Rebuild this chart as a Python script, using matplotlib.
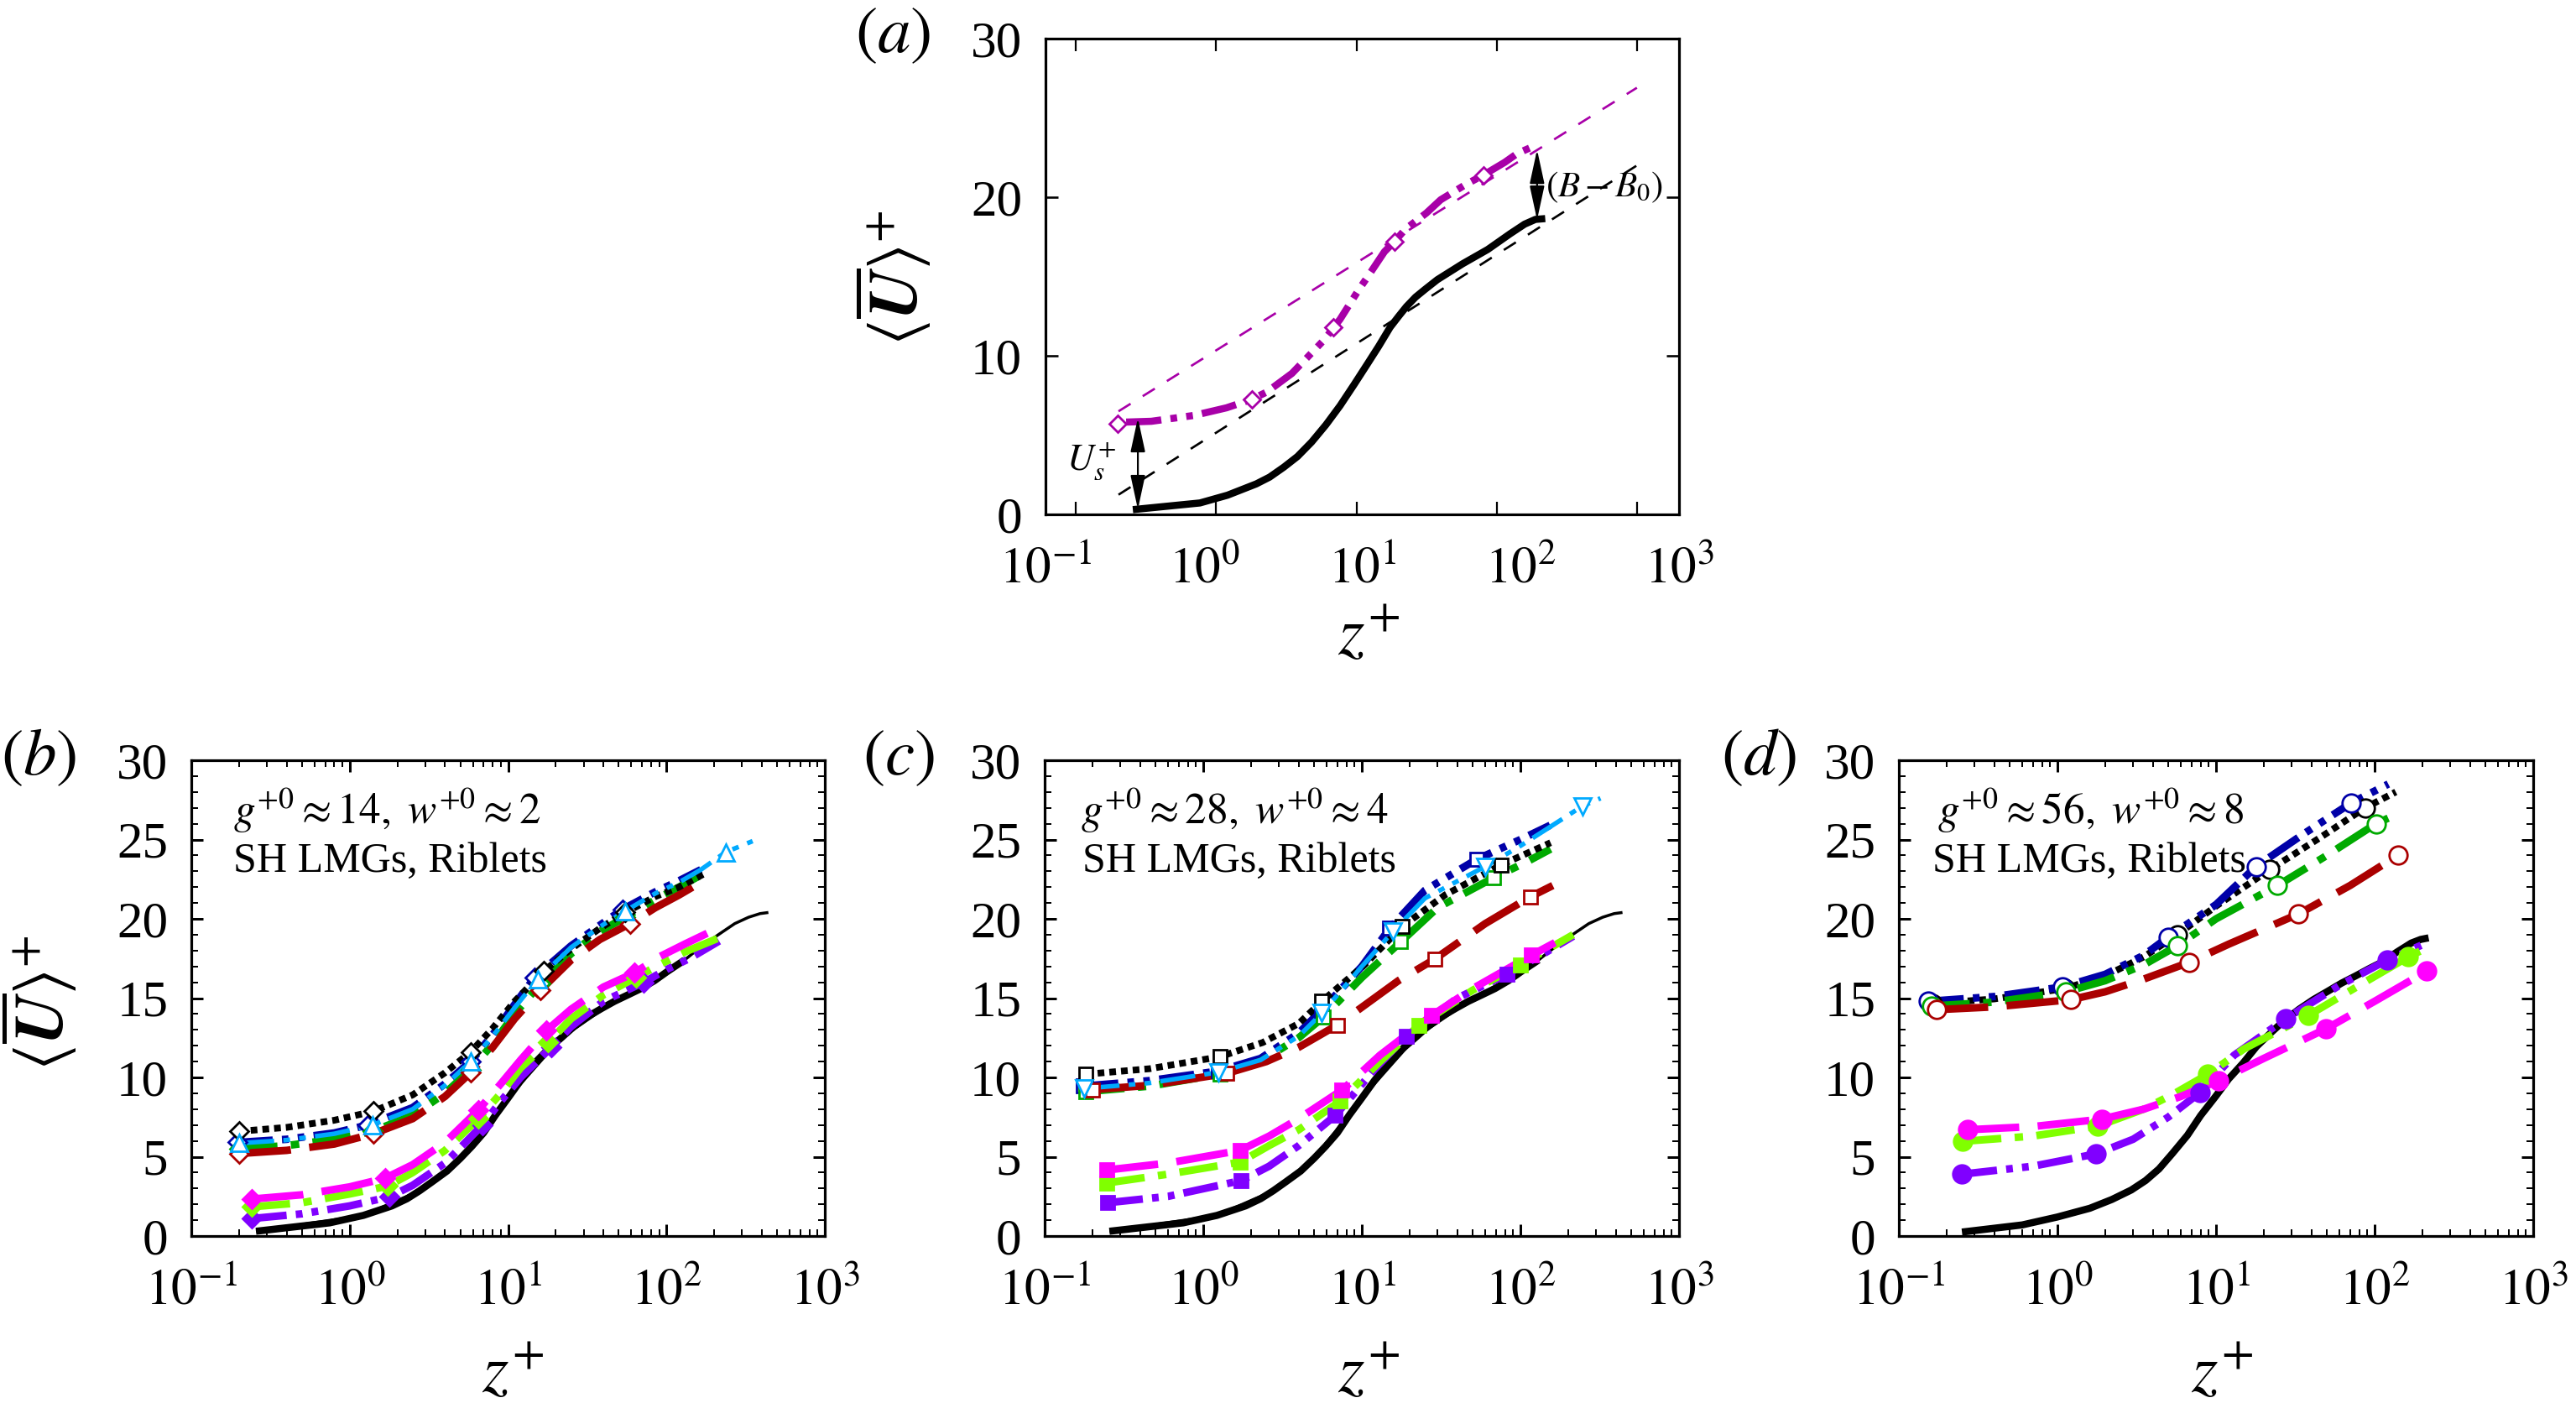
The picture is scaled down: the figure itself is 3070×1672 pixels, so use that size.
import matplotlib
matplotlib.use("Agg")
import matplotlib.pyplot as plt

plt.rcParams['font.family'] = ['Liberation Serif', 'DejaVu Serif']
plt.rcParams['mathtext.fontset'] = 'stix'
plt.rcParams['lines.scale_dashes'] = False

W, H = 3070, 1672

# ------ panel a
a_base_x = [.356, .944, 1.41, 2.14, 2.6, 3.2, 3.9, 4.79, 5.9, 7.24, 8.9, 10.8, 12.7, 15, 17, 19, 21.7, 25, 29.8, 43, 61.9, 86, 106, 124, 143]
a_base_y = [.3, .72, 1.21, 1.92, 2.35, 2.98, 3.65, 4.56, 5.65, 6.85, 8.2, 9.5, 10.6, 11.8, 12.5, 13.1, 13.7, 14.2, 14.8, 15.8, 16.7, 17.7, 18.3, 18.6, 18.65]
a_sh_x = [.323, .466, .867, 1.39, 2.0, 2.5, 3.6, 5.74, 7.24, 9.55, 10.8, 13.8, 15.9, 18.8, 25.4, 31.3, 45, 58.3, 79.4, 95, 120]
a_sh_y = [5.82, 5.87, 6.24, 6.72, 7.25, 7.72, 8.89, 11, 12.3, 14.2, 14.97, 16.56, 17.18, 18, 19, 19.84, 20.8, 21.4, 22.2, 22.75, 23.2]
a_mark_x = [.285, 2.0, 6.6, 15.9, 58.3]
a_mark_y = [5.7, 7.25, 11.8, 17.18, 21.4]
a_log0_x = [.289, 542]
a_log0_y = [1.24, 22.0]
a_log1_x = [.289, 542]
a_log1_y = [6.5, 26.9]
a_tick_marks = [.155, 1.19, 9.2, 71, 545]
a_ar1_x, a_ar1_y = .383, (6.08, .32)
a_ar2_x, a_ar2_y = 127, (23.0, 18.57)

# ------ baseline smooth-wall curve b/c
base_x = [.256, .748, 1.22, 1.85, 2.3, 2.76, 3.3, 4.12, 5, 5.9, 7, 8.3, 10, 12, 14.7, 18, 21.7, 26, 32, 39, 47, 57, 69, 84, 102, 130]
base_y = [.3, .83, 1.3, 1.9, 2.35, 2.85, 3.4, 4.1, 4.9, 5.65, 6.5, 7.6, 8.7, 9.8, 10.9, 11.8, 12.5, 13.2, 13.85, 14.35, 14.8, 15.2, 15.6, 16.1, 16.7, 17.4]
thin_x = [.256, 1.22, 2.76, 5, 10, 21.7, 47, 102, 130, 150, 180, 220, 270, 330, 390, 440]
thin_y = [.3, 1.3, 2.85, 4.9, 8.7, 12.5, 14.8, 16.7, 17.4, 17.9, 18.5, 19.1, 19.7, 20.1, 20.33, 20.4]

# ------ panel b
b_black = ([.2, .4, .8, 1.41, 2.5, 4, 5.8, 8, 11, 16.8, 25, 38, 55, 85, 120, 170],
           [6.6, 6.85, 7.3, 7.86, 8.9, 10.3, 11.6, 13.1, 14.8, 16.7, 18.1, 19.4, 20.4, 21.4, 22, 22.8])
b_black_m = ([.2, 1.41, 5.8, 16.8, 55], [6.6, 7.86, 11.6, 16.7, 20.4])
b_navy = ([.196, .4, .8, 1.3, 2.5, 4, 5.8, 8, 11, 14.7, 25, 38, 53, 85, 120, 165],
          [5.9, 6.1, 6.5, 7.0, 8.1, 9.6, 11.0, 12.7, 14.6, 16.3, 18.3, 19.6, 20.6, 21.7, 22.4, 23.1])
b_navy_m = ([.196, 1.3, 5.8, 14.7, 53], [5.9, 7.0, 11.0, 16.3, 20.6])
b_cyan = ([.2, .4, .8, 1.39, 2.5, 4, 5.8, 8, 11, 15.4, 25, 38, 55, 85, 120, 165, 236, 350],
          [5.85, 6.05, 6.45, 7.0, 8.0, 9.5, 11.0, 12.6, 14.4, 16.2, 18.2, 19.5, 20.5, 21.6, 22.3, 23.1, 24.2, 24.9])
b_cyan_m = ([.2, 1.39, 5.8, 15.4, 55, 236], [5.85, 7.0, 11.0, 16.2, 20.5, 24.2])
b_green = ([.2, .4, .8, 1.39, 2.5, 4, 5.8, 8, 11, 16, 25, 38, 55, 85, 120, 175],
           [5.5, 5.7, 6.1, 6.6, 7.6, 9.0, 10.5, 12.1, 14, 15.9, 17.8, 19.2, 20.1, 21.2, 22, 22.9])
b_green_m = ([.2, 1.39, 5.8, 16, 55], [5.5, 6.6, 10.5, 15.9, 20.1])
b_red = ([.2, .4, .8, 1.41, 2.5, 4, 5.8, 8, 11, 16, 25, 38, 59, 85, 120, 178],
         [5.2, 5.4, 5.8, 6.45, 7.4, 8.8, 10.3, 11.9, 13.7, 15.5, 17.4, 18.7, 19.7, 20.7, 21.5, 22.5])
b_red_m = ([.2, 1.41, 5.8, 16, 59], [5.2, 6.45, 10.3, 15.5, 19.7])
b_mag = ([.24, .5, 1, 1.67, 2.5, 4, 6.5, 9, 12, 17.5, 25, 40, 63, 90, 130, 210],
         [2.33, 2.6, 3.1, 3.64, 4.5, 5.9, 7.95, 9.6, 11.1, 12.96, 14.3, 15.7, 16.6, 17.6, 18.4, 19.4])
b_mag_m = ([.24, 1.67, 6.5, 17.5, 63], [2.33, 3.64, 7.95, 12.96, 16.6])
b_lime = ([.24, .5, 1, 1.74, 2.5, 4, 6.5, 9, 12, 17.9, 25, 40, 64, 90, 130, 215],
          [1.84, 2.1, 2.65, 3.15, 4, 5.4, 7.4, 9, 10.6, 12.2, 13.7, 15.2, 16.3, 17.1, 17.9, 18.8])
b_lime_m = ([.24, 1.74, 6.5, 17.9, 64], [1.84, 3.15, 7.4, 12.2, 16.3])
b_pur = ([.24, .5, 1, 1.78, 2.5, 4, 6.9, 9, 12, 18.7, 25, 40, 72, 100, 140, 215],
         [1.1, 1.4, 1.9, 2.47, 3.2, 4.6, 7, 8.5, 10, 11.9, 13.2, 14.8, 16, 16.8, 17.5, 18.6])
b_pur_m = ([.24, 1.78, 6.9, 18.7, 72], [1.1, 2.47, 7, 11.9, 16])

# ------ panel c
c_black = ([.182, .46, 1.27, 2.37, 4, 5.6, 10.4, 17.9, 33.4, 75.5, 155],
           [10.2, 10.55, 11.3, 12.2, 13.4, 14.8, 17.1, 19.5, 21.5, 23.4, 24.8])
c_black_m = ([.182, 1.27, 5.6, 17.9, 75.5], [10.2, 11.3, 14.8, 19.5, 23.4])
c_navy = ([.175, .46, 1.24, 2.3, 4, 5.6, 10, 15, 25, 53, 100, 154],
          [9.45, 9.8, 10.4, 11.2, 12.8, 14.25, 17, 19.4, 21.8, 23.75, 25, 25.9])
c_navy_m = ([.175, 1.24, 5.6, 15, 53], [9.45, 10.4, 14.25, 19.4, 23.75])
c_cyan = ([.178, .46, 1.25, 2.3, 4, 5.6, 10, 15.7, 25, 60, 100, 154, 245, 320],
          [9.3, 9.65, 10.33, 11.1, 12.6, 14.05, 17, 19.2, 21.3, 23.3, 24.6, 25.8, 27.1, 27.6])
c_cyan_m = ([.178, 1.25, 5.6, 15.7, 60, 245], [9.3, 10.33, 14.05, 19.2, 23.3, 27.1])
c_green = ([.182, .46, 1.27, 2.3, 4, 5.7, 10, 17.6, 30, 68, 110, 155],
           [9.1, 9.45, 10.2, 11, 12.5, 13.8, 16.3, 18.55, 20.7, 22.6, 23.6, 24.4])
c_green_m = ([.182, 1.27, 5.7, 17.6, 68], [9.1, 10.2, 13.8, 18.55, 22.6])
c_red = ([.2, .46, 1.4, 2.5, 4, 7, 12, 17, 28.7, 60, 116, 160],
         [9.23, 9.5, 10.25, 11, 11.9, 13.3, 15, 16.1, 17.45, 19.7, 21.4, 22.1])
c_red_m = ([.2, 1.4, 7, 28.7, 116], [9.23, 10.25, 13.3, 17.45, 21.4])
c_mag = ([.245, .6, 1.71, 2.6, 4, 7.5, 13, 27.5, 50, 117, 165],
         [4.16, 4.6, 5.4, 6.3, 7.4, 9.2, 11.4, 13.9, 15.6, 17.7, 18.5])
c_mag_m = ([.245, 1.71, 7.5, 27.5, 117], [4.16, 5.4, 9.2, 13.9, 17.7])
c_lime = ([.245, .6, 1.71, 2.6, 4, 7.3, 13, 23, 50, 100, 215],
          [3.34, 3.9, 4.66, 5.7, 6.7, 8.5, 11, 13.3, 15.5, 17.1, 19])
c_lime_m = ([.245, 1.71, 7.3, 23, 100], [3.34, 4.66, 8.5, 13.3, 17.1])
c_pur = ([.25, .6, 1.74, 2.6, 4, 6.8, 12, 19, 40, 82, 140, 215],
         [2.1, 2.5, 3.5, 4.4, 5.7, 7.6, 10.5, 12.6, 15, 16.5, 17.8, 18.9])
c_pur_m = ([.25, 1.74, 6.8, 19, 82], [2.1, 3.5, 7.6, 12.6, 16.5])

# ------ panel d
d_base_x = [.25, .6, 1, 1.6, 2.2, 2.92, 3.6, 4.37, 5.3, 6.6, 8, 9.9, 12, 14.8, 18, 22.4, 27, 33.4, 41, 50, 62, 75.9, 92, 113, 138, 170, 195, 219]
d_base_y = [.25, .7, 1.2, 1.75, 2.3, 2.9, 3.5, 4.23, 5.2, 6.35, 7.6, 8.78, 9.9, 10.9, 11.95, 12.86, 13.6, 14.3, 14.9, 15.4, 15.95, 16.4, 16.85, 17.3, 17.9, 18.47, 18.7, 18.8]
d_black = ([.163, .4, 1.11, 2, 3.5, 5.7, 10, 21.8, 45, 87, 136],
           [14.66, 14.95, 15.6, 16.4, 17.6, 19, 20.8, 23.1, 25.1, 27, 28])
d_black_m = ([.163, 1.11, 5.7, 21.8, 87], [14.66, 15.6, 19, 23.1, 27])
d_navy = ([.154, .4, 1.07, 2, 3.5, 5, 10, 17.9, 35, 71, 122],
          [14.8, 15.1, 15.7, 16.5, 17.7, 18.85, 20.9, 23.3, 25.3, 27.3, 28.5])
d_navy_m = ([.154, 1.07, 5, 17.9, 71], [14.8, 15.7, 18.85, 23.3, 27.3])
d_green = ([.16, .4, 1.13, 2, 3.5, 5.7, 10, 24.4, 50, 102, 142],
           [14.5, 14.75, 15.4, 16.1, 17.1, 18.3, 20, 22.1, 24, 26, 26.65])
d_green_m = ([.16, 1.13, 5.7, 24.4, 102], [14.5, 15.4, 18.3, 22.1, 26])
d_red = ([.172, .4, 1.21, 2, 3.5, 6.75, 12, 33, 70, 140],
         [14.27, 14.45, 14.9, 15.4, 16.2, 17.25, 18.4, 20.3, 22.1, 24])
d_red_m = ([.172, 1.21, 6.75, 33, 140], [14.27, 14.9, 17.25, 20.3, 24])
d_mag = ([.27, .7, 1.9, 3.5, 6, 10.4, 20, 49.5, 100, 213],
         [6.7, 6.9, 7.37, 8.0, 8.8, 9.8, 11.2, 13.07, 14.8, 16.7])
d_mag_m = ([.27, 1.9, 10.4, 49.5, 213], [6.7, 7.37, 9.8, 13.07, 16.7])
d_lime = ([.253, .7, 1.8, 3.5, 5.5, 8.9, 15, 38, 80, 163, 216],
          [5.97, 6.3, 6.93, 8, 9, 10.2, 11.8, 13.9, 15.8, 17.6, 18.2])
d_lime_m = ([.253, 1.8, 8.9, 38, 163], [5.97, 6.93, 10.2, 13.9, 17.6])
d_pur = ([.25, .7, 1.75, 3, 5, 7.9, 13, 27.5, 60, 120, 215],
         [3.9, 4.4, 5.18, 6.1, 7.5, 9.04, 11.4, 13.7, 15.8, 17.4, 18.5])
d_pur_m = ([.25, 1.75, 7.9, 27.5, 120], [3.9, 5.18, 9.04, 13.7, 17.4])

x_labels = ['$10^{-1}$', '$10^{0}$', '$10^{1}$', '$10^{2}$', '$10^{3}$']
x_decades = [.1, 1, 10, 100, 1000]

# ------ styling
P = 0.72  # pt per px at dpi 100
C_NAVY, C_CYAN, C_GREEN, C_RED = '#0000A8', '#00AAFF', '#00AA00', '#AA0000'
C_MAG, C_LIME, C_PUR, C_A = '#FF00FF', '#80FF00', '#8000FF', '#A800A8'
def px(seq):
    return (0, tuple(v * P for v in seq))
D_DOT = px((8, 6))
D_DDD = px((42, 11, 8, 11, 8, 11))
D_DD = px((46, 16, 10, 16))
D_LONG = px((62, 22))

fig = plt.figure(figsize=(W / 100, H / 100), dpi=100)
def new_ax(l, r, t, b):
    return fig.add_axes([l / W, 1 - b / H, (r - l) / W, (b - t) / H])
def ftext(x, y, s, **kw):
    kw.setdefault('ha', 'center')
    kw.setdefault('va', 'center')
    return fig.text(x / W, 1 - y / H, s, **kw)

def style(ax):
    ax.set_xscale('log')
    ax.set_xlim(.1, 1000)
    ax.set_ylim(0, 30)
    for s in ax.spines.values():
        s.set_linewidth(3.2 * P)

ax_a = new_ax(1246, 2001, 46, 613)
ax_b = new_ax(228, 983, 906, 1473)
ax_c = new_ax(1245, 2001, 906, 1473)
ax_d = new_ax(2263, 3019, 906, 1473)
for ax in (ax_a, ax_b, ax_c, ax_d):
    style(ax)

# panel a: tick marks and decade labels do not coincide in the reference
ax_a.set_xticks(x_decades, x_labels)
ax_a.set_xticks(a_tick_marks, minor=True)
ax_a.set_xticklabels([], minor=True)
ax_a.set_yticks([0, 10, 20, 30], ['0', '10', '20', '30'])
ax_a.tick_params(axis='x', which='major', length=0, pad=28, labelsize=44)
ax_a.tick_params(axis='x', which='minor', length=15 * P, width=2.2 * P, top=True, direction='in')
ax_a.tick_params(axis='y', length=15 * P, width=2.6 * P, right=True, direction='in', pad=20, labelsize=44)

for ax in (ax_b, ax_c, ax_d):
    ax.set_xticks(x_decades, x_labels)
    ax.xaxis.set_minor_locator(matplotlib.ticker.LogLocator(base=10, subs=range(2, 10), numticks=20))
    ax.xaxis.set_minor_formatter(matplotlib.ticker.NullFormatter())
    ax.set_yticks([0, 5, 10, 15, 20, 25, 30], ['0', '5', '10', '15', '20', '25', '30'])
    ax.set_yticks(range(0, 31), minor=True)
    ax.tick_params(which='major', length=14 * P, width=3 * P, top=True, right=True, direction='in', labelsize=44)
    ax.tick_params(which='minor', length=8 * P, width=2 * P, top=True, right=True, direction='in')
    ax.tick_params(axis='x', which='major', pad=28)
    ax.tick_params(axis='y', which='major', pad=20)

# panel a content
ax_a.plot(a_log1_x, a_log1_y, color=C_A, lw=2.7 * P, dashes=(17 * P, 17 * P), zorder=2)
ax_a.plot(a_log0_x, a_log0_y, color='k', lw=2.7 * P, dashes=(17 * P, 17 * P), zorder=2)
ax_a.plot(a_base_x, a_base_y, color='k', lw=8.5 * P, solid_capstyle='butt', zorder=3)
ax_a.plot(a_sh_x, a_sh_y, color=C_A, lw=8.5 * P, linestyle=D_DDD, dash_capstyle='butt', zorder=3)
ax_a.plot(a_mark_x, a_mark_y, ls='none', marker='D', ms=10.5, mfc='w', mec=C_A, mew=2.0, zorder=4)
for xv, yv in ((a_ar1_x, a_ar1_y), (a_ar2_x, a_ar2_y)):
    ax_a.annotate('', xy=(xv, yv[1]), xytext=(xv, yv[0]), zorder=5,
                  arrowprops=dict(arrowstyle='<|-|>,head_length=1.25,head_width=0.27', color='k',
                                  lw=2.2 * P, shrinkA=0, shrinkB=0, mutation_scale=20))

def series(ax, line, marks, color, dash, lw, marker, ms, filled, z):
    ax.plot(line[0], line[1], color=color, lw=lw * P, linestyle=dash, dash_capstyle='butt', zorder=z)
    ax.plot(marks[0], marks[1], ls='none', marker=marker, ms=ms, mew=2.0,
            mfc=color if filled else 'w', mec=color, zorder=z + 10)

for ax in (ax_b, ax_c):
    ax.plot(thin_x, thin_y, color='k', lw=3.5 * P, solid_capstyle='butt', zorder=2)
    ax.plot(base_x, base_y, color='k', lw=8.5 * P, solid_capstyle='butt', zorder=2)
ax_d.plot(d_base_x, d_base_y, color='k', lw=8.5 * P, solid_capstyle='butt', zorder=2)

mb, msb = 'D', 11
series(ax_b, b_pur, b_pur_m, C_PUR, D_DDD, 9, mb, msb, True, 3)
series(ax_b, b_lime, b_lime_m, C_LIME, D_DD, 9, mb, msb, True, 4)
series(ax_b, b_mag, b_mag_m, C_MAG, D_LONG, 9, mb, msb, True, 5)
series(ax_b, b_navy, b_navy_m, C_NAVY, D_DDD, 9, mb, msb, False, 6)
series(ax_b, b_green, b_green_m, C_GREEN, D_DD, 9, mb, msb, False, 7)
series(ax_b, b_red, b_red_m, C_RED, D_LONG, 9, mb, msb, False, 8)
series(ax_b, b_black, b_black_m, 'k', D_DOT, 8, mb, msb, False, 9)
series(ax_b, b_cyan, b_cyan_m, C_CYAN, D_DDD, 5.5, '^', 15, False, 10)

mc, msc = 's', 12
series(ax_c, c_pur, c_pur_m, C_PUR, D_DDD, 9, mc, msc, True, 3)
series(ax_c, c_lime, c_lime_m, C_LIME, D_DD, 9, mc, msc, True, 4)
series(ax_c, c_mag, c_mag_m, C_MAG, D_LONG, 9, mc, msc, True, 5)
series(ax_c, c_navy, c_navy_m, C_NAVY, D_DDD, 9, mc, msc, False, 6)
series(ax_c, c_green, c_green_m, C_GREEN, D_DD, 9, mc, msc, False, 7)
series(ax_c, c_red, c_red_m, C_RED, D_LONG, 9, mc, msc, False, 8)
series(ax_c, c_black, c_black_m, 'k', D_DOT, 8, mc, msc, False, 9)
series(ax_c, c_cyan, c_cyan_m, C_CYAN, D_DDD, 5.5, 'v', 15, False, 10)

md, msd = 'o', 15.5
series(ax_d, d_pur, d_pur_m, C_PUR, D_DDD, 9, md, msd, True, 3)
series(ax_d, d_lime, d_lime_m, C_LIME, D_DD, 9, md, msd, True, 4)
series(ax_d, d_mag, d_mag_m, C_MAG, D_LONG, 9, md, msd, True, 5)
series(ax_d, d_black, d_black_m, 'k', D_DOT, 8, md, msd, False, 6)
series(ax_d, d_navy, d_navy_m, C_NAVY, D_DDD, 9, md, msd, False, 7)
series(ax_d, d_green, d_green_m, C_GREEN, D_DD, 9, md, msd, False, 8)
series(ax_d, d_red, d_red_m, C_RED, D_LONG, 9, md, msd, False, 9)

# text
ylab = r'$\langle\overline{\mathbfit{U}}\rangle^{+}$'
xlab = r'$z^{+}$'
ftext(1064, 331, ylab, rotation=90, fontsize=58)
ftext(46, 1195, ylab, rotation=90, fontsize=58)
for xc, yc in ((1631, 760), (611, 1640), (1631, 1640), (2648, 1640)):
    ftext(xc, yc, xlab, fontsize=58)
for xc, s in ((1064, r'$(a)$'), (46, r'$(b)$'), (1071, r'$(c)$'), (2096, r'$(d)$')):
    ftext(xc, 43 if s == r'$(a)$' else 904, s, fontsize=57)
ftext(1300, 550, r'$U_s^{+}$', fontsize=32)
ftext(1842, 223, r'$(B-B_0)$', ha='left', fontsize=31)
for xl, xl2, s in ((278, 278, r'$g^{+0}\approx 14,\ w^{+0}\approx 2$'),
                   (1288, 1290, r'$g^{+0}\approx 28,\ w^{+0}\approx 4$'),
                   (2309, 2303, r'$g^{+0}\approx 56,\ w^{+0}\approx 8$')):
    ftext(xl, 966, s, ha='left', fontsize=37, zorder=20)
    ftext(xl2, 1027, 'SH LMGs, Riblets', ha='left', fontsize=36, zorder=20)

fig.savefig('out.png', dpi=100)
